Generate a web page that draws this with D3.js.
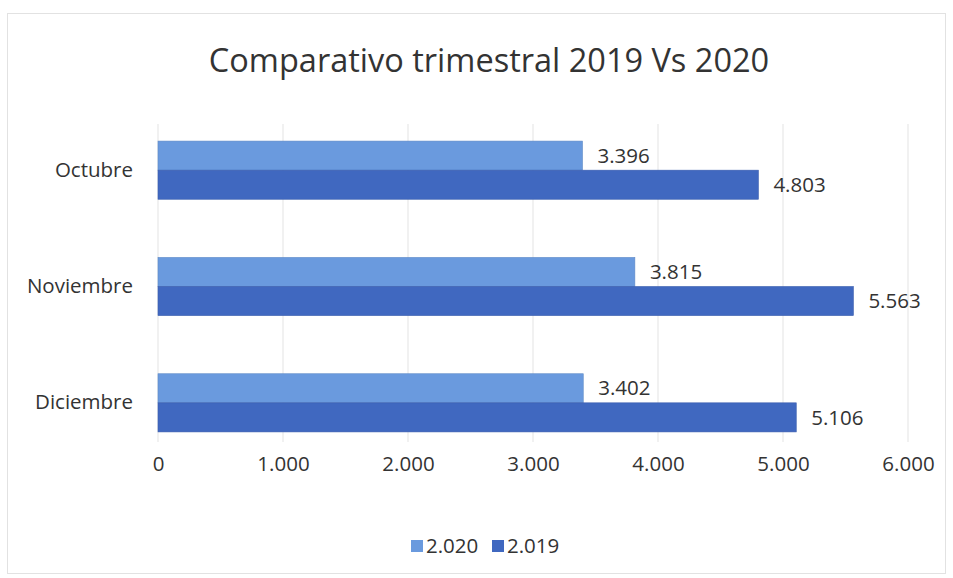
<!DOCTYPE html>
<html>
<head>
<meta charset="utf-8">
<script src="https://cdn.jsdelivr.net/npm/d3@7"></script>
<style>
  body { margin: 0; background: #fff; }
  svg text { font-family: "Open Sans", "Noto Sans", sans-serif; fill: #333; }
</style>
</head>
<body>
<div id="chart"></div>
<script>
const width = 953;
const height = 578;

const months = ["Octubre", "Noviembre", "Diciembre"];
const seriesNames = ["2.020", "2.019"];
const values2020 = [3396, 3815, 3402];
const values2019 = [4803, 5563, 5106];
const tickValues = [0, 1000, 2000, 3000, 4000, 5000, 6000];
const colors = ["#6a9ade", "#4068c0"];

const fmt = v => d3.format(",")(v).replace(/,/g, ".");

const svg = d3.select("#chart")
  .append("svg")
  .attr("width", width)
  .attr("height", height);

// outer frame
svg.append("rect")
  .attr("x", 7.5).attr("y", 13.5)
  .attr("width", 938).attr("height", 560)
  .attr("fill", "none")
  .attr("stroke", "#e2e2e2");

svg.append("text")
  .attr("x", 489)
  .attr("y", 72)
  .attr("text-anchor", "middle")
  .style("font-size", "32.5px")
  .text("Comparativo trimestral 2019 Vs 2020");

const x = d3.scaleLinear().domain([0, 6000]).range([158, 908]);
const y = d3.scaleBand().domain(months).range([112, 461]).paddingInner(0.5).paddingOuter(0.25);
const ySub = d3.scaleBand().domain(seriesNames).range([0, y.bandwidth()]);

// gridlines
svg.append("g")
  .selectAll("line")
  .data(tickValues)
  .join("line")
  .attr("x1", d => x(d)).attr("x2", d => x(d))
  .attr("y1", 124).attr("y2", 442)
  .attr("stroke", "#e3e3e3");

// x axis labels
const xAxis = svg.append("g")
  .attr("transform", "translate(0,453)")
  .call(d3.axisBottom(x).tickValues(tickValues).tickFormat(fmt).tickSize(0));
xAxis.select(".domain").remove();
xAxis.selectAll("text").style("font-size", "20.5px").attr("fill", "#333");

// y axis labels
const yAxis = svg.append("g")
  .attr("transform", "translate(136,0)")
  .call(d3.axisLeft(y).tickSize(0));
yAxis.select(".domain").remove();
yAxis.selectAll("text").style("font-size", "20.5px").attr("fill", "#333");

const rows = months.map((m, i) => ({
  month: m,
  items: [
    {key: seriesNames[0], value: values2020[i], color: colors[0]},
    {key: seriesNames[1], value: values2019[i], color: colors[1]}
  ]
}));

const groups = svg.append("g")
  .selectAll("g")
  .data(rows)
  .join("g")
  .attr("transform", d => `translate(0,${y(d.month)})`);

groups.selectAll("rect")
  .data(d => d.items)
  .join("rect")
  .attr("x", x(0))
  .attr("y", d => ySub(d.key))
  .attr("width", d => x(d.value) - x(0))
  .attr("height", ySub.bandwidth())
  .attr("fill", d => d.color)
  .attr("stroke", d => d3.color(d.color).darker(0.3))
  .attr("stroke-width", 0.6);

groups.selectAll("text")
  .data(d => d.items)
  .join("text")
  .attr("x", d => x(d.value) + 15)
  .attr("y", d => ySub(d.key) + ySub.bandwidth() / 2)
  .attr("dy", "0.35em")
  .style("font-size", "20.5px")
  .text(d => fmt(d.value));

// legend
const legend = svg.append("g")
  .selectAll("g")
  .data(seriesNames)
  .join("g")
  .attr("transform", (d, i) => `translate(${411 + i * 81},546)`);

legend.append("rect")
  .attr("x", 0).attr("y", -6)
  .attr("width", 12).attr("height", 12)
  .attr("fill", (d, i) => colors[i]);

legend.append("text")
  .attr("x", 15)
  .attr("dy", "0.35em")
  .style("font-size", "20.5px")
  .text(d => d);
</script>
</body>
</html>
